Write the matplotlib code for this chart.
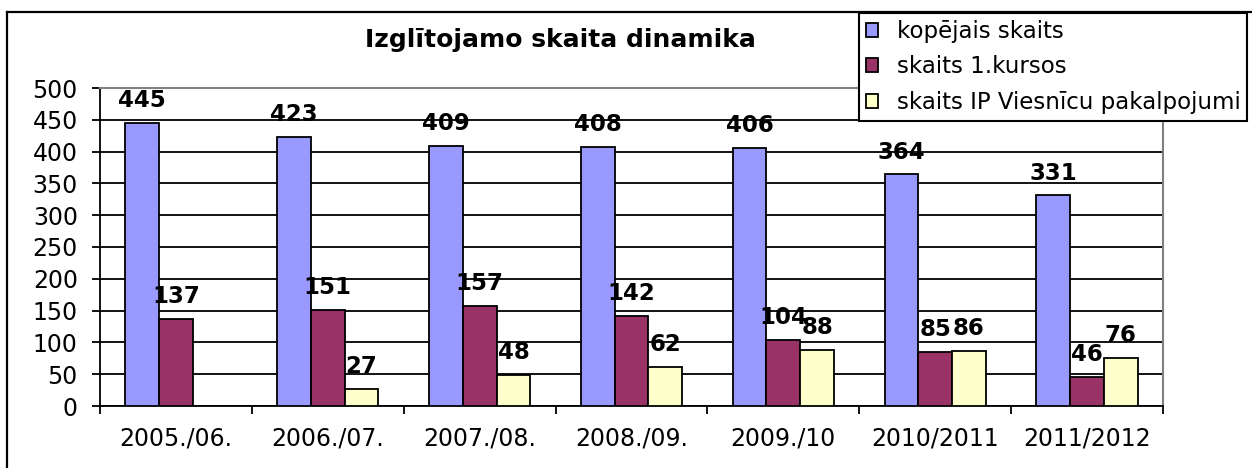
import numpy as np
import matplotlib
matplotlib.use("Agg")
import matplotlib.pyplot as plt
from matplotlib.lines import Line2D

plt.rcParams['font.family'] = ['DejaVu Sans']

# data
periods = ["2005./06.", "2006./07.", "2007./08.", "2008./09.",
           "2009./10", "2010/2011", "2011/2012"]
total = [445, 423, 409, 408, 406, 364, 331]
first_year = [137, 151, 157, 142, 104, 85, 46]
hotel = [None, 27, 48, 62, 88, 86, 76]

series_names = ["kopējais skaits", "skaits 1.kursos",
                "skaits IP Viesnīcu pakalpojumi"]
colors = ["#9999FF", "#993366", "#FFFFCC"]
title = "Izglītojamo skaita dinamika"

W, H = 1252, 468
fig = plt.figure(figsize=(W / 100, H / 100), dpi=100)
ax = fig.add_axes([100 / W, 1 - 406 / H, (1163 - 100) / W, (406 - 88) / H])

x = np.arange(len(periods))
w = 1 / 4.5
for k, vals in enumerate([total, first_year, hotel]):
    xs = [xi + (k - 1) * w for xi, v in zip(x, vals) if v is not None]
    vs = [v for v in vals if v is not None]
    ax.bar(xs, vs, width=w, color=colors[k], edgecolor="black",
           linewidth=1.3, label=series_names[k], zorder=3)
    for xi, v in zip(xs, vs):
        ax.annotate(str(v), xy=(xi, v), xytext=(0, 11.5),
                    textcoords="offset points", ha="center", va="baseline",
                    fontsize=16.5, fontweight="bold", zorder=4)

ax.set_xlim(-0.5, len(periods) - 0.5)
ax.set_ylim(0, 500)
ax.set_yticks(range(0, 501, 50))
ax.set_xticks(x)
ax.set_xticklabels(periods)
ax.set_xticks(np.arange(-0.5, len(periods), 1), minor=True)
ax.tick_params(axis="x", which="major", length=0, pad=15, labelsize=17)
ax.tick_params(axis="x", which="minor", length=6, width=1.3, direction="out")
ax.tick_params(axis="y", length=6, width=1.3, direction="out", pad=10,
               labelsize=17)

ax.yaxis.grid(True, color="black", linewidth=1.3, zorder=0)
ax.set_axisbelow(True)
for s in ["left", "bottom"]:
    ax.spines[s].set_color("black")
    ax.spines[s].set_linewidth(1.3)
for s in ["top", "right"]:
    ax.spines[s].set_color("#808080")
    ax.spines[s].set_linewidth(1.5)

fig.text(560 / W, 1 - 40 / H, title, ha="center", va="center",
         fontsize=18, fontweight="bold")

leg = fig.legend(loc="upper left", bbox_to_anchor=(859 / W, 1 - 13 / H),
                 bbox_transform=fig.transFigure, borderaxespad=0,
                 frameon=True, fancybox=False, fontsize=16.5,
                 handlelength=0.55, handleheight=0.55, handletextpad=0.8,
                 labelspacing=0.55, borderpad=0.3)
leg.get_frame().set_edgecolor("black")
leg.get_frame().set_linewidth(1.5)
leg.get_frame().set_alpha(1)
leg.set_zorder(10)

# outer chart frame (cut off at right and bottom in the original)
fig.add_artist(Line2D([7 / W, 7 / W], [0, 1 - 12 / H], color="black",
                      linewidth=1.6, transform=fig.transFigure))
fig.add_artist(Line2D([7 / W, 1], [1 - 12 / H, 1 - 12 / H], color="black",
                      linewidth=1.6, transform=fig.transFigure))

fig.savefig("out.png", dpi=100)
